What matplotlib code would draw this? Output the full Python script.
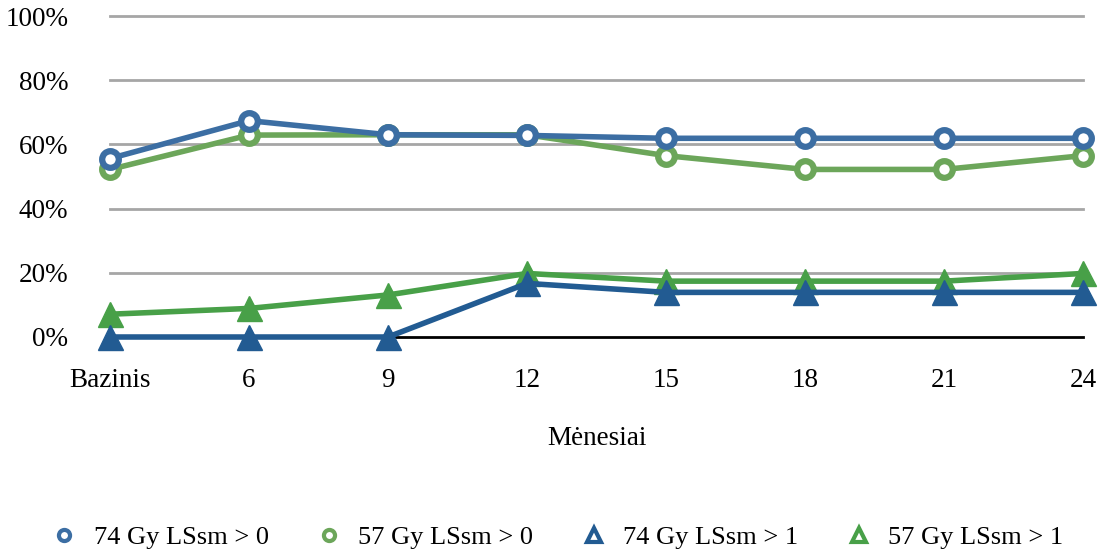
import matplotlib.pyplot as plt
from matplotlib.ticker import FuncFormatter
from matplotlib.lines import Line2D

months = ["Bazinis", "6", "9", "12", "15", "18", "21", "24"]
gy74_gt0 = [55.6, 67.4, 63.0, 62.8, 61.9, 61.9, 61.9, 61.9]
gy57_gt0 = [52.2, 62.9, 63.0, 63.0, 56.5, 52.2, 52.2, 56.5]
gy74_gt1 = [0.0, 0.0, 0.0, 16.7, 13.9, 13.9, 13.9, 13.9]
gy57_gt1 = [7.1, 8.9, 13.1, 19.8, 17.4, 17.4, 17.4, 19.8]
yticks = [0, 20, 40, 60, 80, 100]

plt.rcParams['font.family'] = ['Liberation Serif', 'DejaVu Serif']

fig = plt.figure(figsize=(11.01, 5.54), dpi=100)
ax = fig.add_axes([110 / 1101, 1 - 337 / 554, (1083 - 110) / 1101, (337 - 16) / 554])

x = list(range(len(months)))

for yv in yticks[1:]:
    ax.axhline(yv, color='#A6A6A6', lw=2, zorder=0)
ax.axhline(0, color='black', lw=2, zorder=1)

blue_c = '#3C6EA3'
green_c = '#6CA65A'
blue_t = '#225B92'
green_t = '#48A048'

ax.plot(x, gy74_gt0, color=blue_c, lw=4, marker='o', ms=12, mfc='white',
        mec=blue_c, mew=4.5, label='74 Gy LSsm > 0', zorder=4)
ax.plot(x, gy57_gt0, color=green_c, lw=4, marker='o', ms=12, mfc='white',
        mec=green_c, mew=4.5, label='57 Gy LSsm > 0', zorder=3)
ax.plot(x, gy74_gt1, color=blue_t, lw=4, marker='^', ms=18, mfc=blue_t,
        mec=blue_t, label='74 Gy LSsm > 1', zorder=5)
ax.plot(x, gy57_gt1, color=green_t, lw=4, marker='^', ms=18, mfc=green_t,
        mec=green_t, label='57 Gy LSsm > 1', zorder=4)

ax.set_xlim(0, len(months) - 1)
ax.set_ylim(0, 100)
ax.set_xticks(x)
ax.set_xticklabels(months)
ax.set_yticks(yticks)
ax.yaxis.set_major_formatter(FuncFormatter(lambda v, p: f"{int(v)}%"))
ax.tick_params(axis='both', length=0, labelsize=19.5, colors='black')
ax.tick_params(axis='y', pad=30)
ax.tick_params(axis='x', pad=22)
for s in ax.spines.values():
    s.set_visible(False)
ax.set_facecolor('none')
for ln in ax.lines:
    ln.set_clip_on(False)

ax.set_xlabel('Mėnesiai', fontsize=19.5, labelpad=24)

labels = [ln.get_label() for ln in ax.lines if not ln.get_label().startswith('_')]
leg_handles = [
    Line2D([], [], ls='none', marker='o', ms=8, mfc='white', mec=blue_c, mew=3),
    Line2D([], [], ls='none', marker='o', ms=8, mfc='white', mec=green_c, mew=3),
    Line2D([], [], ls='none', marker='^', ms=10, mfc='white', mec=blue_t, mew=3),
    Line2D([], [], ls='none', marker='^', ms=10, mfc='white', mec=green_t, mew=3),
]
fig.legend(leg_handles, labels, loc='center', bbox_to_anchor=(0.506, 1 - 537 / 554),
           ncol=4, frameon=False, fontsize=19, handlelength=1.0,
           handletextpad=0.6, columnspacing=1.8)

fig.savefig('out.png', dpi=100)
